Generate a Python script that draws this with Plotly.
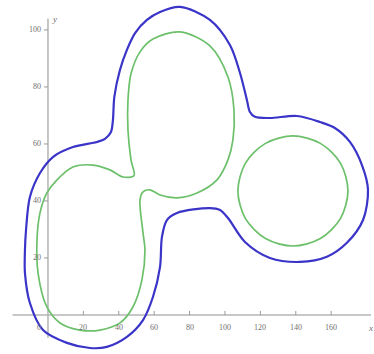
import plotly.graph_objects as go

# Outer level curve (blue), traced clockwise from the top
outer_x = [74.6, 91.5, 102.8, 108.5, 112.4, 114.1, 116.9, 125.4, 140.7, 153.7, 162.1, 170.6,
           177.4, 180.8, 178.0, 168.9, 157.6, 142.4, 125.4, 111.3, 101.7, 97.2, 91.5, 72.9,
           67.2, 64.4, 63.3, 59.3, 53.7, 44.6, 33.3, 23.7, 10.7, -2.8, -10.2, -13.0, -13.0,
           -12.4, -10.2, -4.5, 2.8, 14.1, 27.7, 32.2, 35.6, 36.7, 37.5, 40.7, 44.6, 49.2, 55.9, 63.3]
outer_y = [108.1, 103.5, 94.7, 84.9, 75.4, 71.2, 69.5, 69.1, 69.8, 67.7, 65.6, 60.7,
           52.6, 43.9, 33.3, 25.3, 20.4, 18.6, 20.0, 25.6, 34.0, 36.8, 37.5, 35.8,
           33.3, 27.4, 16.8, 6.3, -1.8, -7.7, -11.2, -11.6, -9.8, -5.3, 4.2, 14.7, 22.8,
           29.8, 41.4, 49.8, 55.4, 58.9, 60.7, 61.8, 64.2, 68.4, 76.5, 86.0, 93.0, 98.9, 103.5, 106.3]

# Inner level curve (green) around the two joined left lobes
inner_x = [74.6, 91.5, 101.7, 105.1, 104.5, 101.7, 95.5, 84.2, 72.9, 63.3, 57.6, 53.7,
           52.0, 53.7, 54.8, 53.1, 48.0, 40.7, 29.4, 18.1, 6.8, -0.6, -5.6, -6.2,
           -4.5, -0.6, 5.1, 14.1, 25.4, 35.0, 42.4, 48.6, 46.9, 45.2, 45.2, 46.9, 52.0, 59.3]
inner_y = [99.3, 94.4, 83.5, 71.9, 61.4, 54.4, 47.4, 42.8, 41.1, 42.1, 43.9, 43.2,
           40.4, 28.8, 22.8, 12.3, 2.8, -2.8, -5.3, -5.3, -2.8, 2.8, 14.7, 26.3,
           35.8, 42.8, 47.4, 51.9, 52.6, 50.9, 48.4, 48.8, 54.4, 64.9, 75.4, 84.6, 92.3, 96.8]

# Inner level curve (green) around the right lobe
ring_x = [138.4, 153.9, 165.3, 169.5, 165.3, 153.9, 138.4, 122.9, 111.5, 107.3, 111.5, 122.9]
ring_y = [62.8, 60.2, 53.2, 43.5, 33.9, 26.8, 24.2, 26.8, 33.9, 43.5, 53.2, 60.2]

x_ticks = [20, 40, 60, 80, 100, 120, 140, 160]
y_ticks = [20, 40, 60, 80, 100]

X_RANGE = [-27.1, 184.2]
Y_RANGE = [-13.7, 110.5]
X_AXIS_SPAN = [-20.0, 182.5]
Y_AXIS_SPAN = [-8.0, 104.0]

BLUE = "#3a34c8"
GREEN = "#6cc06a"
AXIS = "#b4b4b4"
LABEL = "#707070"
FONT = "Liberation Serif"


def closed(xs, ys):
    return xs + xs[:1], ys + ys[:1]


fig = go.Figure()
for xs, ys, col, w in [(outer_x, outer_y, BLUE, 2.2),
                       (inner_x, inner_y, GREEN, 1.7),
                       (ring_x, ring_y, GREEN, 1.7)]:
    cx, cy = closed(xs, ys)
    fig.add_trace(go.Scatter(x=cx, y=cy, mode="lines",
                             line=dict(color=col, width=w, shape="spline", smoothing=0.9),
                             hoverinfo="skip", showlegend=False))

shapes = [
    dict(type="line", xref="x", yref="y", x0=X_AXIS_SPAN[0], x1=X_AXIS_SPAN[1], y0=0, y1=0,
         line=dict(color=AXIS, width=1.5), layer="below"),
    dict(type="line", xref="x", yref="y", x0=0, x1=0, y0=Y_AXIS_SPAN[0], y1=Y_AXIS_SPAN[1],
         line=dict(color=AXIS, width=1.5), layer="below"),
]
annotations = []
for t in x_ticks:
    shapes.append(dict(type="line", xref="x", yref="y", x0=t, x1=t, ysizemode="pixel",
                       yanchor=0, y0=0, y1=4, line=dict(color="#999999", width=1)))
    annotations.append(dict(x=t, y=0, xref="x", yref="y", text=str(t), showarrow=False,
                            xanchor="center", yanchor="top", yshift=-6,
                            font=dict(family=FONT, size=8, color=LABEL)))
for t in y_ticks:
    shapes.append(dict(type="line", xref="x", yref="y", y0=t, y1=t, xsizemode="pixel",
                       xanchor=0, x0=-4, x1=0, line=dict(color="#999999", width=1)))
    annotations.append(dict(x=0, y=t, xref="x", yref="y", text=str(t), showarrow=False,
                            xanchor="right", yanchor="middle", xshift=-5,
                            font=dict(family=FONT, size=8, color=LABEL)))
annotations.append(dict(x=0, y=0, xref="x", yref="y", text="0", showarrow=False,
                        xanchor="right", yanchor="top", xshift=-5, yshift=-6,
                        font=dict(family=FONT, size=8, color=LABEL)))
annotations.append(dict(x=X_AXIS_SPAN[1], y=0, xref="x", yref="y", text="<i>x</i>",
                        showarrow=False, xanchor="center", yanchor="top", yshift=-6,
                        font=dict(family=FONT, size=9, color=LABEL)))
annotations.append(dict(x=0, y=Y_AXIS_SPAN[1], xref="x", yref="y", text="<i>y</i>",
                        showarrow=False, xanchor="left", yanchor="middle", xshift=2,
                        font=dict(family=FONT, size=9, color=LABEL)))

fig.update_layout(
    width=374, height=354,
    margin=dict(l=0, r=0, t=0, b=0),
    paper_bgcolor="white", plot_bgcolor="white",
    xaxis=dict(range=X_RANGE, visible=False),
    yaxis=dict(range=Y_RANGE, visible=False),
    shapes=shapes, annotations=annotations,
)

fig.write_html("out.html")
